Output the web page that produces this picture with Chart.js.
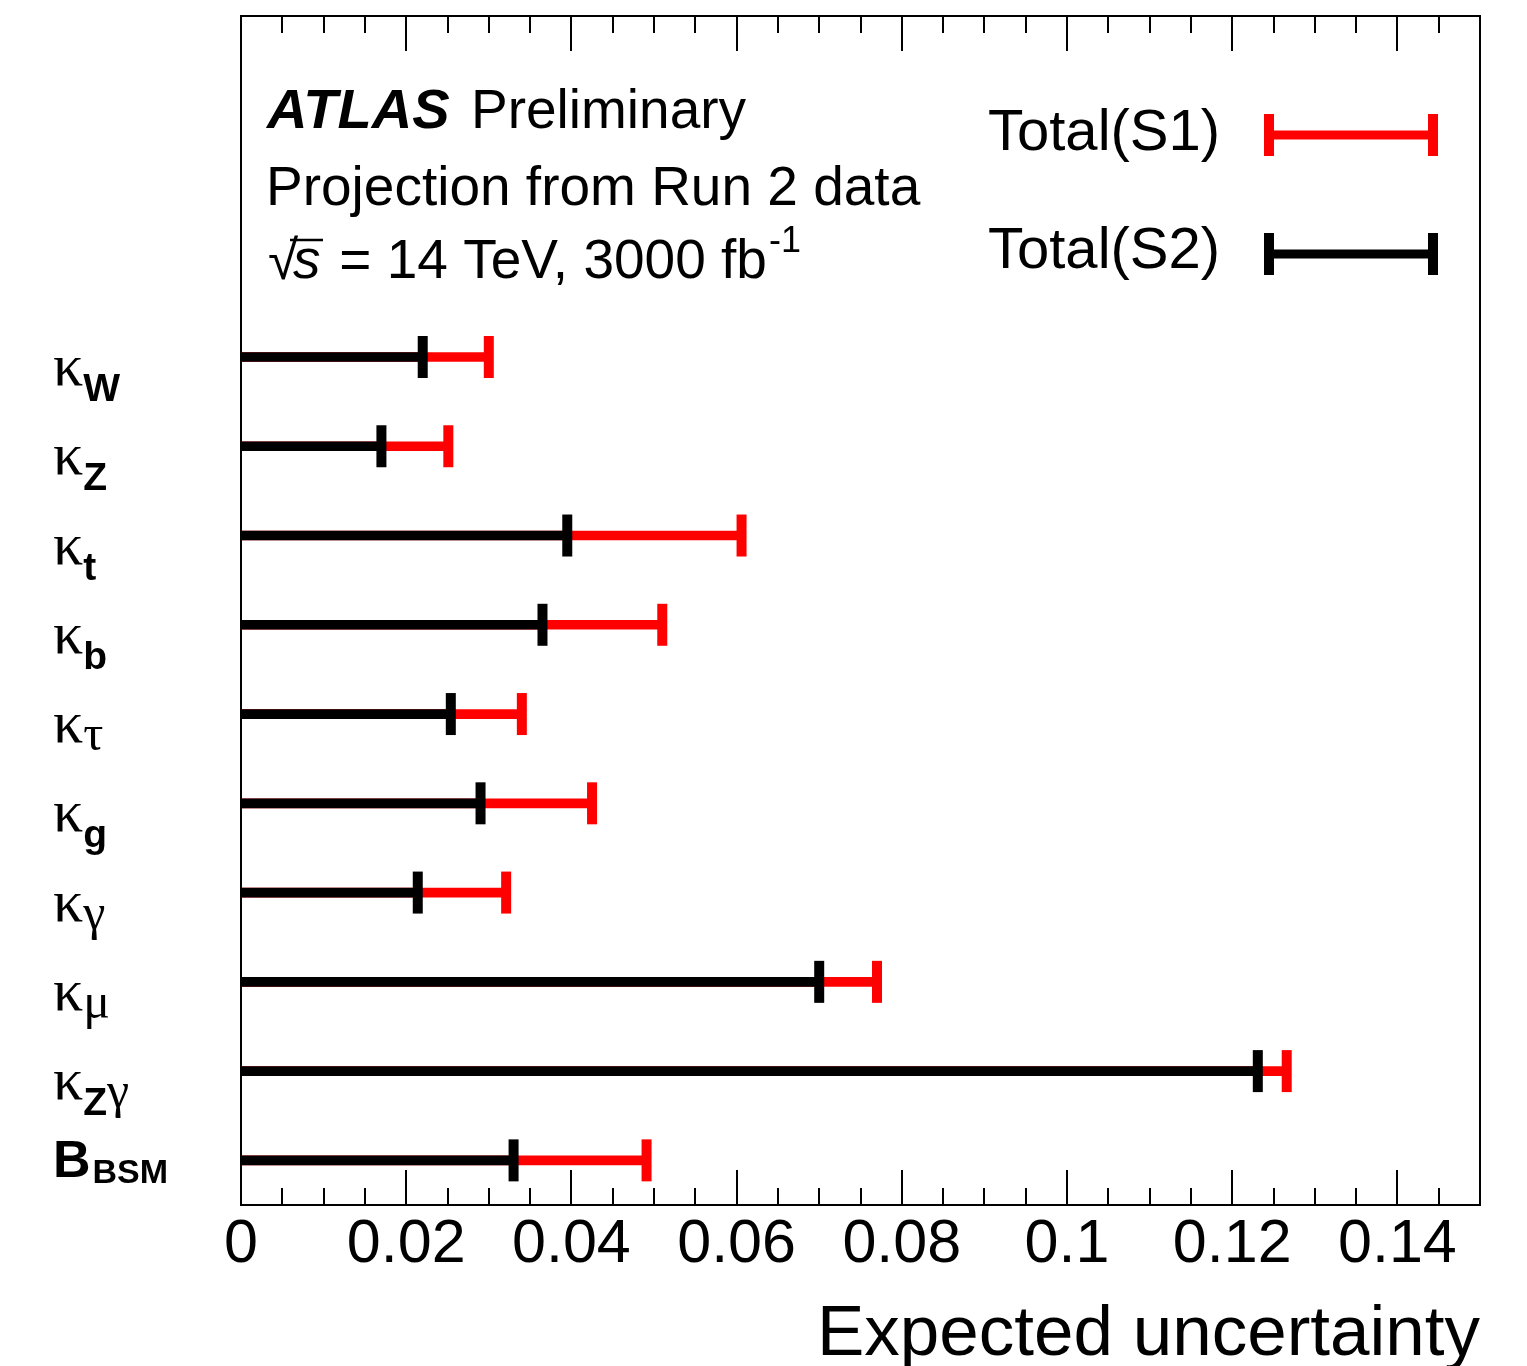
<!DOCTYPE html>
<html>
<head>
<meta charset="utf-8">
<script src="https://cdn.jsdelivr.net/npm/chart.js@4/dist/chart.umd.min.js"></script>
<style>
  body { margin: 0; background: #fff; }
  #wrap { width: 1527px; height: 1366px; position: relative; }
</style>
</head>
<body>
<div id="wrap"><canvas id="chart"></canvas></div>
<script>
// --- DATA ---
const categories = ['κ_W', 'κ_Z', 'κ_t', 'κ_b', 'κ_τ', 'κ_g', 'κ_γ', 'κ_μ', 'κ_Zγ', 'B_BSM'];
const s1Values = [0.0300, 0.0251, 0.0606, 0.0510, 0.0340, 0.0425, 0.0321, 0.0770, 0.1266, 0.0491];
const s2Values = [0.0220, 0.0170, 0.0395, 0.0365, 0.0254, 0.0290, 0.0214, 0.0700, 0.1231, 0.0330];
const xTickValues = [0, 0.02, 0.04, 0.06, 0.08, 0.1, 0.12, 0.14];
const xTickLabels = ['0', '0.02', '0.04', '0.06', '0.08', '0.1', '0.12', '0.14'];
const seriesNames = ['Total(S1)', 'Total(S2)'];

const RED = '#ff0000';
const BLACK = '#000000';
const SANS = '"Liberation Sans", Arial, sans-serif';
const SERIF = '"Liberation Serif", "Times New Roman", serif';

const toPoints = vals => vals.map((v, i) => ({ x: v, y: i }));

// --- FRAME, TICKS, TEXT, LEGEND ---
const isGreek = ch => /[\u0370-\u03ff]/.test(ch);

function drawLabel(ctx, text, x, yBar) {
    const [main, sub] = text.split('_');
    let cx = x;
    if (isGreek(main)) {
        ctx.font = '60px ' + SERIF;
        ctx.fillText(main, cx, yBar + 28);
        cx += ctx.measureText(main).width;
        for (const ch of sub) {
            if (isGreek(ch)) {
                ctx.font = '50px ' + SERIF;
                ctx.fillText(ch, cx, yBar + 36);
            } else {
                ctx.font = 'bold 39px ' + SANS;
                ctx.fillText(ch, cx, yBar + 44);
            }
            cx += ctx.measureText(ch).width;
        }
    } else {
        ctx.font = 'bold 52px ' + SANS;
        ctx.fillText(main, cx, yBar + 17);
        cx += ctx.measureText(main).width + 2;
        ctx.font = 'bold 34px ' + SANS;
        ctx.fillText(sub, cx, yBar + 23);
    }
}

function drawLegendBar(ctx, x0, x1, y, color) {
    ctx.fillStyle = color;
    ctx.fillRect(x0, y - 4.5, x1 - x0, 9);
    ctx.fillRect(x0, y - 21, 10, 42);
    ctx.fillRect(x1 - 10, y - 21, 10, 42);
}

const decorPlugin = {
    id: 'decor',
    afterDatasetsDraw(chart) {
        const ctx = chart.ctx;
        const area = chart.chartArea;
        const xs = chart.scales.x;
        const ys = chart.scales.y;
        ctx.save();

        // frame
        ctx.strokeStyle = '#000';
        ctx.lineWidth = 2;
        ctx.strokeRect(area.left, area.top, area.right - area.left, area.bottom - area.top);

        // inward ticks, top and bottom
        for (let k = 1; k <= 30; k++) {
            const v = k * 0.005;
            const px = Math.round(xs.getPixelForValue(v));
            const len = (k % 4 === 0) ? 35 : 17;
            ctx.beginPath();
            ctx.moveTo(px, area.bottom);
            ctx.lineTo(px, area.bottom - len);
            ctx.moveTo(px, area.top);
            ctx.lineTo(px, area.top + len);
            ctx.stroke();
        }

        // y labels
        ctx.fillStyle = '#000';
        ctx.textAlign = 'left';
        ctx.textBaseline = 'alphabetic';
        categories.forEach((c, i) => drawLabel(ctx, c, 53, ys.getPixelForValue(i)));

        // ATLAS text block
        ctx.font = 'italic bold 56px ' + SANS;
        ctx.fillText('ATLAS', 267, 128);
        ctx.font = '55px ' + SANS;
        ctx.fillText('Preliminary', 471, 128);
        ctx.fillText('Projection from Run 2 data', 266, 205);

        // sqrt(s) line
        ctx.font = '55px ' + SANS;
        ctx.fillText('√', 268, 279);
        ctx.font = 'italic 55px ' + SANS;
        ctx.fillText('s', 293, 278);
        ctx.lineWidth = 2.5;
        ctx.beginPath();
        ctx.moveTo(290, 240);
        ctx.lineTo(323, 240);
        ctx.stroke();
        ctx.font = '55px ' + SANS;
        const rest = ' = 14 TeV, 3000 fb';
        ctx.fillText(rest, 324, 278);
        const rw = ctx.measureText(rest).width;
        ctx.font = '36px ' + SANS;
        ctx.fillText('-1', 324 + rw + 2, 252);

        // legend
        ctx.font = '58px ' + SANS;
        ctx.fillText(seriesNames[0], 988, 150);
        ctx.fillText(seriesNames[1], 988, 268);
        drawLegendBar(ctx, 1264, 1438, 135, RED);
        drawLegendBar(ctx, 1264, 1438, 254, BLACK);

        ctx.restore();
    }
};

// --- CHART ---
new Chart(document.getElementById('chart'), {
    type: 'bar',
    data: {
        datasets: [
            {
                type: 'scatter',
                data: toPoints(s2Values),
                pointStyle: 'line',
                rotation: 90,
                pointRadius: 21,
                pointBorderWidth: 10,
                pointBorderColor: BLACK,
                pointBackgroundColor: BLACK
            },
            {
                data: toPoints(s2Values),
                backgroundColor: BLACK,
                barThickness: 9,
                grouped: false
            },
            {
                type: 'scatter',
                data: toPoints(s1Values),
                pointStyle: 'line',
                rotation: 90,
                pointRadius: 21,
                pointBorderWidth: 10,
                pointBorderColor: RED,
                pointBackgroundColor: RED
            },
            {
                data: toPoints(s1Values),
                backgroundColor: RED,
                barThickness: 9,
                grouped: false
            }
        ]
    },
    options: {
        indexAxis: 'y',
        responsive: true,
        maintainAspectRatio: false,
        animation: false,
        events: [],
        layout: { autoPadding: false, padding: { left: 241, right: 47, top: 16, bottom: 0 } },
        plugins: {
            legend: { display: false },
            tooltip: { enabled: false },
            title: { display: false }
        },
        scales: {
            x: {
                type: 'linear',
                position: 'bottom',
                min: 0,
                max: 0.15,
                grid: { display: false, drawTicks: false },
                border: { display: false },
                afterBuildTicks: scale => {
                    scale.ticks = xTickValues.map(v => ({ value: v }));
                },
                afterFit: scale => { scale.height = 161; },
                ticks: {
                    autoSkip: false,
                    maxRotation: 0,
                    padding: 4,
                    color: '#000',
                    font: { family: SANS, size: 61 },
                    callback: (v) => {
                        const i = xTickValues.findIndex(t => Math.abs(t - v) < 1e-9);
                        return i >= 0 ? xTickLabels[i] : '';
                    }
                },
                title: {
                    display: true,
                    text: 'Expected uncertainty',
                    align: 'end',
                    color: '#000',
                    padding: 0,
                    font: { family: SANS, size: 71, lineHeight: 0.85 }
                }
            },
            y: {
                type: 'linear',
                display: false,
                reverse: true,
                offset: false,
                min: -3.82,
                max: 9.5
            }
        }
    },
    plugins: [decorPlugin]
});
</script>
</body>
</html>
